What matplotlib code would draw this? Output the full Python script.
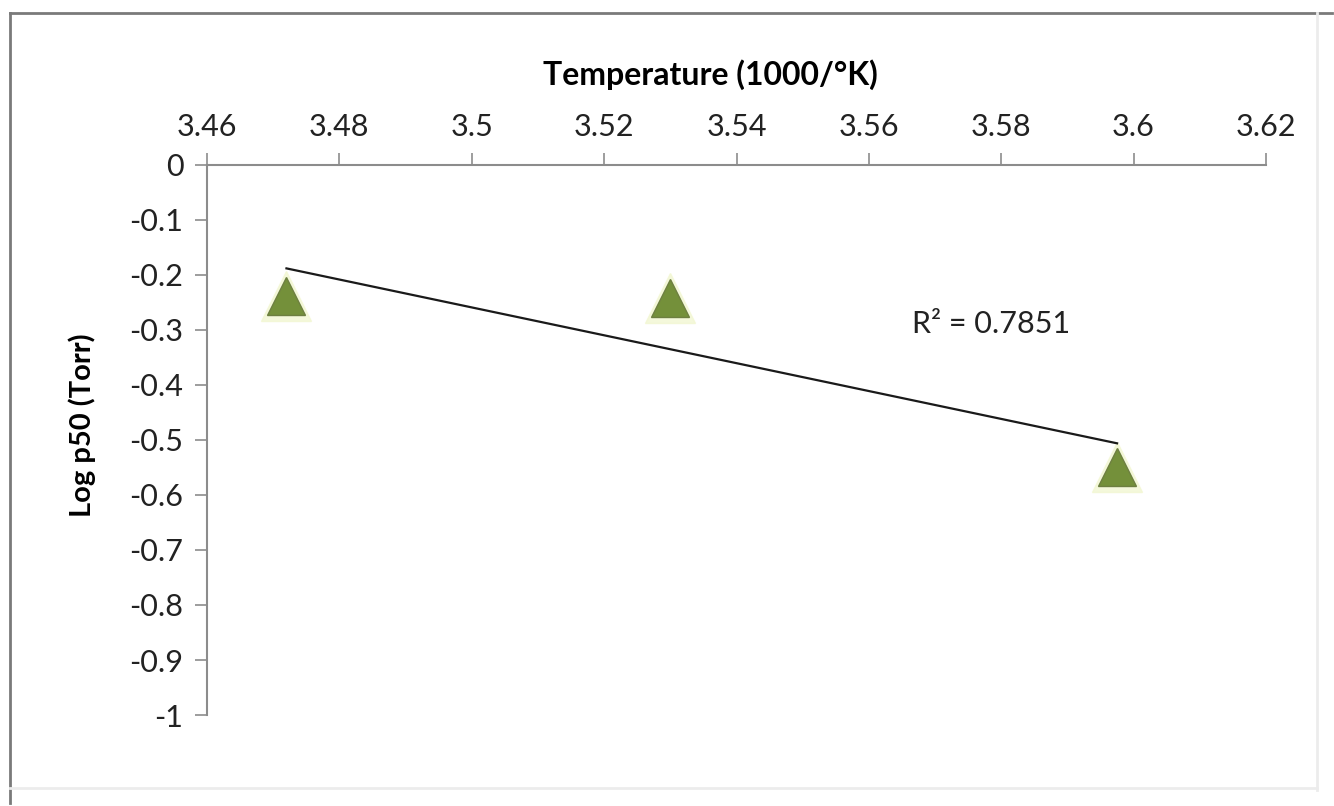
import numpy as np
import matplotlib
matplotlib.use('Agg')
import matplotlib.pyplot as plt
from matplotlib.lines import Line2D

plt.rcParams['font.family'] = ['Lato', 'DejaVu Sans']

# Data
inv_temp = [3.472, 3.530, 3.5975]       # 1000/K
log_p50 = [-0.238, -0.242, -0.549]      # log Torr
r_squared = 0.7851

x_ticks = [3.46, 3.48, 3.50, 3.52, 3.54, 3.56, 3.58, 3.60, 3.62]
x_tick_labels = ['3.46', '3.48', '3.5', '3.52', '3.54', '3.56', '3.58', '3.6', '3.62']
y_ticks = [0, -0.1, -0.2, -0.3, -0.4, -0.5, -0.6, -0.7, -0.8, -0.9, -1]
y_tick_labels = ['0', '-0.1', '-0.2', '-0.3', '-0.4', '-0.5', '-0.6', '-0.7', '-0.8', '-0.9', '-1']

# Linear trendline
coef = np.polyfit(inv_temp, log_p50, 1)
fit = np.poly1d(coef)
x_fit = np.array([min(inv_temp), max(inv_temp)])

fig = plt.figure(figsize=(13.34, 8.06), dpi=100)
ax = fig.add_axes([0.1552, 0.1129, 0.7938, 0.6824])

axis_col = '#8c8c8c'
ax.set_xlim(3.46, 3.62)
ax.set_ylim(-1, 0)
ax.xaxis.tick_top()
ax.xaxis.set_label_position('top')
for s in ['right', 'bottom']:
    ax.spines[s].set_visible(False)
for s in ['top', 'left']:
    ax.spines[s].set_color(axis_col)
    ax.spines[s].set_linewidth(1.5)

ax.set_xticks(x_ticks)
ax.set_xticklabels(x_tick_labels)
ax.set_yticks(y_ticks)
ax.set_yticklabels(y_tick_labels)
ax.tick_params(axis='both', direction='out', length=9, width=1.2, color=axis_col,
               labelsize=22, labelcolor='#222222', pad=8)

ax.set_xlabel('Temperature (1000/°K)', fontsize=23, fontweight='bold', va='center')
ax.xaxis.set_label_coords(0.475, 1.164)
ax.set_ylabel('Log p50 (Torr)', fontsize=21, fontweight='bold', va='center')
ax.yaxis.set_label_coords(-0.118, 0.527)

# soft glow behind markers, then markers
ax.plot(inv_temp, log_p50, linestyle='none', marker='^', ms=36,
        color='#f2f7d2', alpha=0.8, zorder=2)
ax.plot(inv_temp, log_p50, linestyle='none', marker='^', ms=27,
        markerfacecolor='#74903a', markeredgecolor='#6d7f40', markeredgewidth=1, zorder=3)
ax.plot(x_fit, fit(x_fit), color='#1a1a1a', lw=1.6, zorder=4)

ax.text(3.5665, -0.29, 'R² = %.4f' % r_squared, fontsize=22, color='#222222',
        ha='left', va='center')

# chart frame
fig.add_artist(Line2D([0.0075, 0.0075], [0.004, 0.984], transform=fig.transFigure,
                      color='#7a7a7a', lw=2))
fig.add_artist(Line2D([0.0075, 0.9985], [0.984, 0.984], transform=fig.transFigure,
                      color='#7a7a7a', lw=2))
fig.add_artist(Line2D([0.987, 0.987], [0.02, 0.984], transform=fig.transFigure,
                      color='#ececec', lw=2))
fig.add_artist(Line2D([0.0075, 0.987], [0.022, 0.022], transform=fig.transFigure,
                      color='#ececec', lw=2))

fig.savefig('out.png', dpi=100)
